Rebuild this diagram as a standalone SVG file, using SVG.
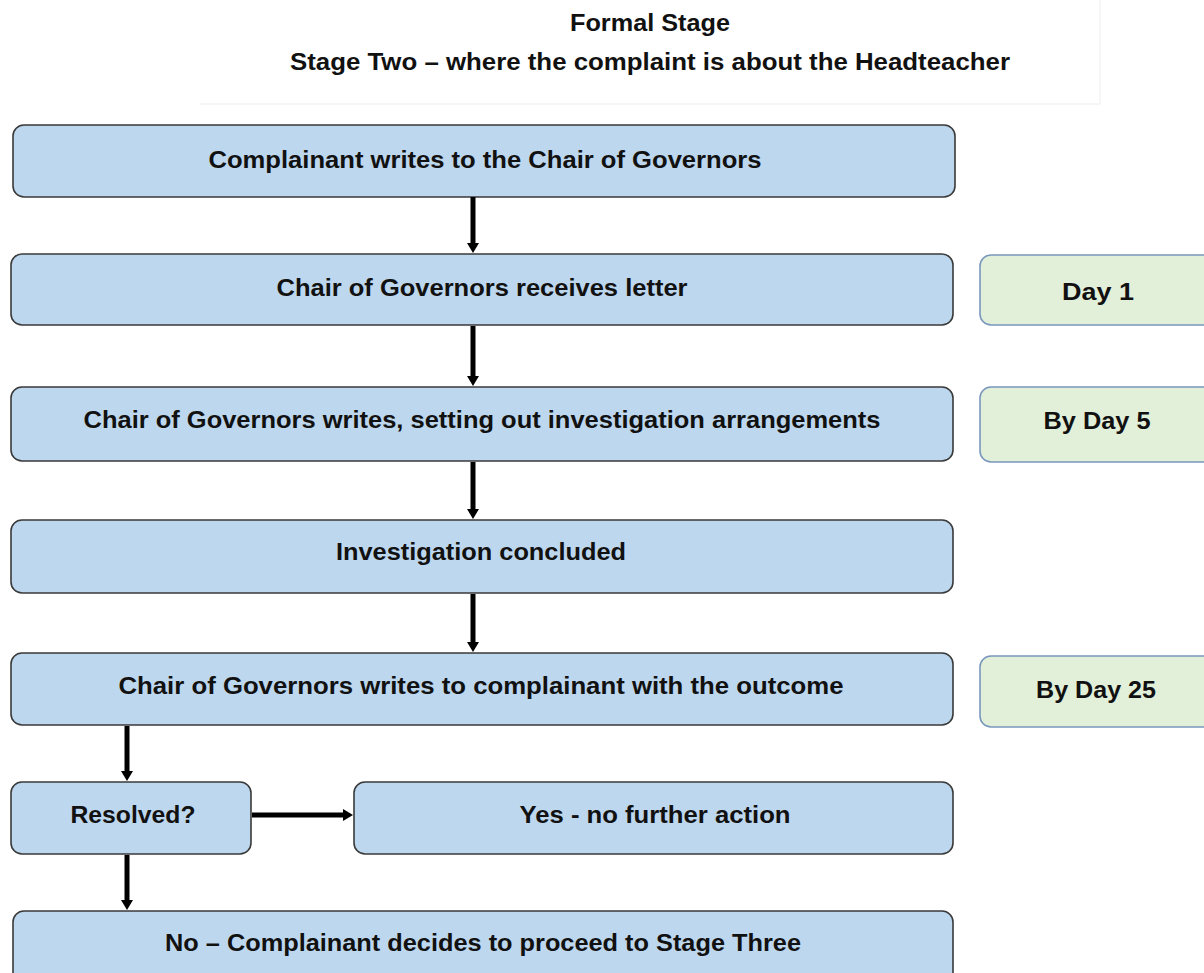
<svg xmlns="http://www.w3.org/2000/svg" width="1204" height="973" viewBox="0 0 1204 973">
<style>
  .t{font-family:"Liberation Sans",Arial,sans-serif;font-weight:bold;font-size:23px;fill:#111;text-anchor:middle}
  .b{fill:#bdd7ee;stroke:#3a3a3a;stroke-width:1.6}
  .g{fill:#e2efd9;stroke:#7a98bd;stroke-width:1.6}
  .c{fill:none;stroke:#000;stroke-width:5;marker-end:url(#ah)}
</style>
<defs>
  <marker id="ah" markerUnits="userSpaceOnUse" markerWidth="12" markerHeight="12" refX="2" refY="6" orient="auto">
    <path d="M0,0 L10,6 L0,12 z" fill="#000"/>
  </marker>
</defs>
<rect width="1204" height="973" fill="#fff"/>
<g id="title">
  <line x1="200" y1="104" x2="1100" y2="104" stroke="#f2f2f2" stroke-width="1.5"/>
  <line x1="1100" y1="0" x2="1100" y2="104" stroke="#f4f4f4" stroke-width="1.5"/>
  <text class="t" x="650" y="31" textLength="160" lengthAdjust="spacingAndGlyphs">Formal Stage</text>
  <text class="t" x="650" y="70" textLength="720" lengthAdjust="spacingAndGlyphs">Stage Two – where the complaint is about the  Headteacher</text>
</g>
<g id="n1"><rect class="b" x="13" y="125" width="942" height="72" rx="11"/>
  <text class="t" x="485" y="168" textLength="553" lengthAdjust="spacingAndGlyphs">Complainant writes to the Chair of Governors</text></g>
<g id="n2"><rect class="b" x="11" y="254" width="942" height="71" rx="11"/>
  <text class="t" x="482" y="296" textLength="411" lengthAdjust="spacingAndGlyphs">Chair of Governors  receives letter</text></g>
<g id="n3"><rect class="b" x="11" y="387" width="942" height="74" rx="11"/>
  <text class="t" x="482" y="428" textLength="797" lengthAdjust="spacingAndGlyphs">Chair of Governors writes, setting out investigation arrangements</text></g>
<g id="n4"><rect class="b" x="11" y="520" width="942" height="73" rx="11"/>
  <text class="t" x="481" y="560" textLength="290" lengthAdjust="spacingAndGlyphs">Investigation concluded</text></g>
<g id="n5"><rect class="b" x="11" y="653" width="942" height="72" rx="11"/>
  <text class="t" x="481" y="694" textLength="725" lengthAdjust="spacingAndGlyphs">Chair of Governors writes to complainant with the outcome</text></g>
<g id="n6"><rect class="b" x="11" y="782" width="240" height="72" rx="11"/>
  <text class="t" x="133" y="823" textLength="125" lengthAdjust="spacingAndGlyphs">Resolved?</text></g>
<g id="n7"><rect class="b" x="354" y="782" width="599" height="72" rx="11"/>
  <text class="t" x="655" y="823" textLength="271" lengthAdjust="spacingAndGlyphs">Yes - no further action</text></g>
<g id="n8"><rect class="b" x="13" y="911" width="940" height="80" rx="11"/>
  <text class="t" x="483" y="951" textLength="636" lengthAdjust="spacingAndGlyphs">No – Complainant decides to proceed to Stage Three</text></g>
<g id="d1"><rect class="g" x="980" y="255" width="236" height="70" rx="11"/>
  <text class="t" x="1098" y="300" textLength="72" lengthAdjust="spacingAndGlyphs">Day 1</text></g>
<g id="d5"><rect class="g" x="980" y="387" width="236" height="75" rx="11"/>
  <text class="t" x="1097" y="429" textLength="107" lengthAdjust="spacingAndGlyphs">By Day 5</text></g>
<g id="d25"><rect class="g" x="980" y="656" width="236" height="71" rx="11"/>
  <text class="t" x="1096" y="698" textLength="120" lengthAdjust="spacingAndGlyphs">By Day 25</text></g>
<g id="connectors">
  <path class="c" d="M473,197 V245"/>
  <path class="c" d="M473,326 V378"/>
  <path class="c" d="M473,462 V511"/>
  <path class="c" d="M473,594 V644"/>
  <path class="c" d="M127,726 V773"/>
  <path class="c" d="M127,855 V902"/>
  <path class="c" d="M252,815 H345"/>
</g>
</svg>
